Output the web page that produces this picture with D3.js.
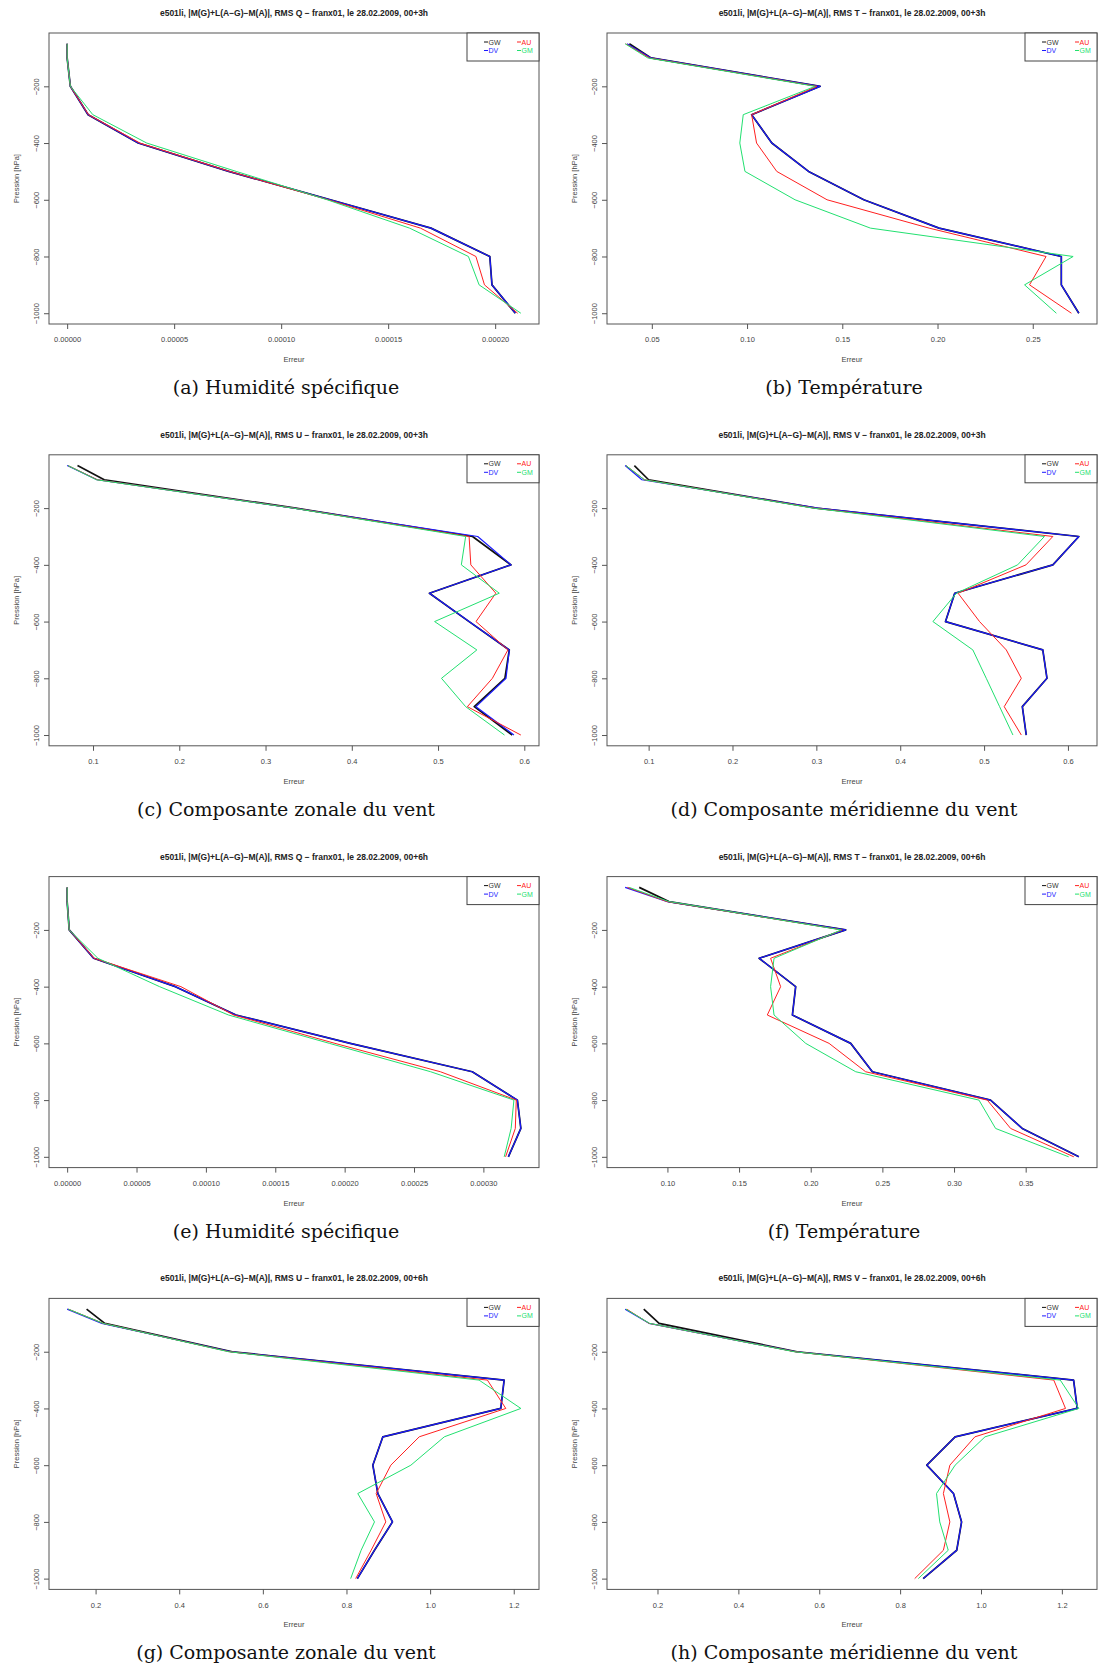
<!DOCTYPE html>
<html>
<head>
<meta charset="utf-8">
<script src="https://cdn.jsdelivr.net/npm/d3@7"></script>
<style>
  html, body { margin: 0; padding: 0; background: #fff; }
  svg { display: block; }
  .tick text { font-family: "Liberation Sans", Arial, sans-serif; }
</style>
</head>
<body>
<svg id="chart" width="1099" height="1668"></svg>
<script>
// ---------------- DATA ----------------
const levels = [50, 100, 200, 300, 400, 500, 600, 700, 800, 900, 1000];
const seriesNames = ["GW", "DV", "AU", "GM"];
const yTicks = [-200, -400, -600, -800, -1000];

// (a) RMS Q, 00+3h
const a_GW = [0, 0, 1.5e-6, 9.8e-6, 3.32e-5, 7.55e-5, 1.23e-4, 1.70e-4, 1.975e-4, 1.985e-4, 2.094e-4];
const a_DV = [0, 0, 1.5e-6, 9.8e-6, 3.32e-5, 7.55e-5, 1.23e-4, 1.70e-4, 1.975e-4, 1.985e-4, 2.094e-4];
const a_AU = [0, 0, 1.5e-6, 1.0e-5, 3.4e-5, 7.6e-5, 1.22e-4, 1.651e-4, 1.91e-4, 1.95e-4, 2.105e-4];
const a_GM = [0, 0, 1.5e-6, 1.2e-5, 3.72e-5, 7.9e-5, 1.215e-4, 1.60e-4, 1.875e-4, 1.925e-4, 2.12e-4];
const a_ticks = [0, 0.00005, 0.0001, 0.00015, 0.0002];

// (b) RMS T, 00+3h
const b_GW = [0.0382, 0.0496, 0.1384, 0.1024, 0.113, 0.1323, 0.1613, 0.2008, 0.265, 0.265, 0.2742];
const b_DV = [0.0370, 0.0496, 0.1384, 0.1024, 0.113, 0.1323, 0.1613, 0.2008, 0.265, 0.265, 0.2742];
const b_AU = [0.0362, 0.0488, 0.1367, 0.1024, 0.105, 0.1156, 0.142, 0.1956, 0.257, 0.2483, 0.2703];
const b_GM = [0.0360, 0.0479, 0.1358, 0.098, 0.0962, 0.0989, 0.1252, 0.1648, 0.2712, 0.2457, 0.2624];
const b_ticks = [0.05, 0.10, 0.15, 0.20, 0.25];

// (c) RMS U, 00+3h
const c_GW = [0.082, 0.113, 0.335, 0.540, 0.5846, 0.490, 0.536, 0.5826, 0.5775, 0.542, 0.586];
const c_DV = [0.070, 0.1046, 0.333, 0.546, 0.5846, 0.490, 0.536, 0.5826, 0.5788, 0.544, 0.588];
const c_AU = [0.071, 0.105, 0.333, 0.536, 0.538, 0.567, 0.544, 0.581, 0.563, 0.534, 0.596];
const c_GM = [0.071, 0.104, 0.332, 0.532, 0.527, 0.571, 0.496, 0.545, 0.504, 0.532, 0.577];
const c_ticks = [0.1, 0.2, 0.3, 0.4, 0.5, 0.6];

// (d) RMS V, 00+3h
const d_GW = [0.083, 0.100, 0.300, 0.613, 0.582, 0.465, 0.454, 0.570, 0.575, 0.5456, 0.5503];
const d_DV = [0.072, 0.092, 0.302, 0.613, 0.582, 0.465, 0.454, 0.570, 0.575, 0.5456, 0.5503];
const d_AU = [0.073, 0.095, 0.298, 0.582, 0.550, 0.469, 0.4946, 0.5265, 0.5444, 0.524, 0.5444];
const d_GM = [0.073, 0.095, 0.296, 0.572, 0.540, 0.467, 0.439, 0.4866, 0.5026, 0.5185, 0.5344];
const d_ticks = [0.1, 0.2, 0.3, 0.4, 0.5, 0.6];

// (e) RMS Q, 00+6h
const e_GW = [0, 0, 1.5e-6, 1.91e-5, 7.8e-5, 1.217e-4, 2.04e-4, 2.92e-4, 3.245e-4, 3.27e-4, 3.18e-4];
const e_DV = [0, 0, 1.5e-6, 1.91e-5, 7.8e-5, 1.217e-4, 2.04e-4, 2.92e-4, 3.245e-4, 3.27e-4, 3.18e-4];
const e_AU = [0, 0, 1.5e-6, 1.95e-5, 8.2e-5, 1.20e-4, 1.93e-4, 2.69e-4, 3.237e-4, 3.23e-4, 3.16e-4];
const e_GM = [0, 0, 1.5e-6, 2.22e-5, 6.66e-5, 1.163e-4, 1.89e-4, 2.62e-4, 3.22e-4, 3.20e-4, 3.15e-4];
const e_ticks = [0, 0.00005, 0.0001, 0.00015, 0.0002, 0.00025, 0.0003];

// (f) RMS T, 00+6h
const f_GW = [0.0803, 0.101, 0.2244, 0.164, 0.1895, 0.1872, 0.2279, 0.243, 0.3255, 0.3476, 0.3871];
const f_DV = [0.0705, 0.100, 0.2244, 0.164, 0.1895, 0.1872, 0.2279, 0.243, 0.3255, 0.3476, 0.3871];
const f_AU = [0.0721, 0.0997, 0.222, 0.172, 0.179, 0.1697, 0.2128, 0.2383, 0.3232, 0.3395, 0.3836];
const f_GM = [0.0733, 0.101, 0.2213, 0.1744, 0.172, 0.1744, 0.1965, 0.2314, 0.3174, 0.329, 0.380];
const f_ticks = [0.10, 0.15, 0.20, 0.25, 0.30, 0.35];

// (g) RMS U, 00+6h
const g_GW = [0.1785, 0.222, 0.527, 1.177, 1.169, 0.887, 0.863, 0.875, 0.910, 0.867, 0.826];
const g_DV = [0.132, 0.215, 0.525, 1.177, 1.169, 0.887, 0.863, 0.875, 0.910, 0.867, 0.826];
const g_AU = [0.135, 0.218, 0.520, 1.137, 1.181, 0.974, 0.906, 0.871, 0.894, 0.859, 0.822];
const g_GM = [0.135, 0.218, 0.518, 1.117, 1.217, 1.034, 0.954, 0.827, 0.867, 0.835, 0.810];
const g_ticks = [0.2, 0.4, 0.6, 0.8, 1.0, 1.2];

// (h) RMS V, 00+6h
const h_GW = [0.166, 0.204, 0.545, 1.229, 1.238, 0.936, 0.866, 0.932, 0.952, 0.940, 0.857];
const h_DV = [0.120, 0.179, 0.543, 1.229, 1.238, 0.936, 0.866, 0.932, 0.952, 0.940, 0.857];
const h_AU = [0.124, 0.179, 0.540, 1.180, 1.209, 0.985, 0.923, 0.907, 0.923, 0.907, 0.836];
const h_GM = [0.122, 0.180, 0.538, 1.196, 1.242, 1.010, 0.936, 0.890, 0.898, 0.919, 0.845];
const h_ticks = [0.2, 0.4, 0.6, 0.8, 1.0, 1.2];

const titleVars = ["Q", "T", "U", "V", "Q", "T", "U", "V"];
const titleRuns = ["00+3h", "00+3h", "00+3h", "00+3h", "00+6h", "00+6h", "00+6h", "00+6h"];
const captions = [
  "(a) Humidité spécifique", "(b) Température",
  "(c) Composante zonale du vent", "(d) Composante méridienne du vent",
  "(e) Humidité spécifique", "(f) Température",
  "(g) Composante zonale du vent", "(h) Composante méridienne du vent"
];

// ---------------- BUILD ----------------
const panels = [
  { data: { GW: a_GW, DV: a_DV, AU: a_AU, GM: a_GM }, ticks: a_ticks, fmt: ".5f" },
  { data: { GW: b_GW, DV: b_DV, AU: b_AU, GM: b_GM }, ticks: b_ticks, fmt: ".2f" },
  { data: { GW: c_GW, DV: c_DV, AU: c_AU, GM: c_GM }, ticks: c_ticks, fmt: ".1f" },
  { data: { GW: d_GW, DV: d_DV, AU: d_AU, GM: d_GM }, ticks: d_ticks, fmt: ".1f" },
  { data: { GW: e_GW, DV: e_DV, AU: e_AU, GM: e_GM }, ticks: e_ticks, fmt: ".5f" },
  { data: { GW: f_GW, DV: f_DV, AU: f_AU, GM: f_GM }, ticks: f_ticks, fmt: ".2f" },
  { data: { GW: g_GW, DV: g_DV, AU: g_AU, GM: g_GM }, ticks: g_ticks, fmt: ".1f" },
  { data: { GW: h_GW, DV: h_DV, AU: h_AU, GM: h_GM }, ticks: h_ticks, fmt: ".1f" }
];

const colors = { GW: "#111111", DV: "#1a1aff", AU: "#ff2020", GM: "#22e070" };
const widths = { GW: 1.7, DV: 1.2, AU: 1.0, GM: 1.0 };
const legendOrder = [["GW", "AU"], ["DV", "GM"]];

const svg = d3.select("#chart");
const SANS = "'Liberation Sans', Arial, Helvetica, sans-serif";

const colX = [49, 607];
const boxW = 490;
const boxH = 291;
const rowY0 = 33, rowPitch = 421.8;

// R-style 4% padding
function rPad(ext) {
  const d = (ext[1] - ext[0]) * 0.04;
  return [ext[0] - d, ext[1] + d];
}

panels.forEach((p, i) => {
  const col = i % 2, row = Math.floor(i / 2);
  const left = colX[col], top = rowY0 + row * rowPitch;
  const g = svg.append("g");

  const allVals = seriesNames.flatMap(s => p.data[s]);
  const x = d3.scaleLinear().domain(rPad(d3.extent(allVals))).range([left, left + boxW]);
  const y = d3.scaleLinear().domain(rPad([-1000, -50])).range([top + boxH, top]);

  // lines
  const line = d3.line().x(d => x(d[0])).y(d => y(d[1]));
  seriesNames.forEach(s => {
    const pts = p.data[s].map((v, k) => [v, -levels[k]]);
    g.append("path").datum(pts)
      .attr("d", line)
      .attr("fill", "none")
      .attr("stroke", colors[s])
      .attr("stroke-width", widths[s])
      .attr("stroke-linejoin", "round");
  });

  // box
  g.append("rect").attr("x", left).attr("y", top).attr("width", boxW).attr("height", boxH)
    .attr("fill", "none").attr("stroke", "#555").attr("stroke-width", 1);

  // x axis
  const fmt = d3.format(p.fmt);
  const xa = g.append("g").attr("transform", `translate(0,${top + boxH})`)
    .call(d3.axisBottom(x).tickValues(p.ticks).tickFormat(fmt).tickSize(5).tickPadding(8));
  xa.select(".domain").remove();
  xa.selectAll(".tick line").attr("stroke", "#555");
  xa.selectAll(".tick text").attr("font-size", 7.5).attr("fill", "#444").attr("font-family", SANS);

  // y axis
  const ya = g.append("g").attr("transform", `translate(${left},0)`)
    .call(d3.axisLeft(y).tickValues(yTicks).tickSize(5).tickFormat(d3.format("d")));
  ya.select(".domain").remove();
  ya.selectAll(".tick line").attr("stroke", "#555");
  ya.selectAll(".tick text")
    .attr("x", null).attr("dy", null)
    .attr("transform", "translate(-13,0) rotate(-90)")
    .attr("text-anchor", "middle")
    .attr("dominant-baseline", "central")
    .attr("font-size", 7.5).attr("fill", "#444").attr("font-family", SANS);

  // axis titles
  g.append("text").attr("x", left + boxW / 2).attr("y", top + boxH + 38)
    .attr("text-anchor", "middle").attr("font-family", SANS).attr("font-size", 7.5).attr("fill", "#444")
    .text("Erreur");
  g.append("text")
    .attr("transform", `translate(${left - 33},${top + boxH / 2}) rotate(-90)`)
    .attr("text-anchor", "middle").attr("dominant-baseline", "central")
    .attr("font-family", SANS).attr("font-size", 7.5).attr("fill", "#444")
    .text("Pression [hPa]");

  // title
  g.append("text").attr("x", left + boxW / 2).attr("y", top - 17)
    .attr("text-anchor", "middle").attr("font-family", SANS).attr("font-size", 8.5)
    .attr("font-weight", "bold").attr("fill", "#222")
    .text(`e501li, |M(G)+L(A\u2212G)\u2212M(A)|, RMS ${titleVars[i]} \u2212 franx01, le 28.02.2009, ${titleRuns[i]}`);

  // legend
  const lgW = 72, lgH = 28;
  const lg = g.append("g").attr("transform", `translate(${left + boxW - lgW},${top})`);
  lg.append("rect").attr("width", lgW).attr("height", lgH).attr("fill", "#fff")
    .attr("stroke", "#444").attr("stroke-width", 1);
  legendOrder.forEach((rowNames, r) => {
    rowNames.forEach((s, c) => {
      const ex = 17 + c * 33, ey = 9 + r * 8.5;
      lg.append("line").attr("x1", ex).attr("x2", ex + 4).attr("y1", ey).attr("y2", ey)
        .attr("stroke", colors[s]).attr("stroke-width", 1);
      lg.append("text").attr("x", ex + 4.5).attr("y", ey).attr("dominant-baseline", "central")
        .attr("font-family", SANS).attr("font-size", 7).attr("fill", s === "GW" ? "#333" : colors[s])
        .text(s);
    });
  });

  // caption
  g.append("text").attr("x", left + boxW / 2 - 8).attr("y", top + boxH + 70)
    .attr("text-anchor", "middle").attr("font-family", "'DejaVu Serif', 'Liberation Serif', serif")
    .attr("font-size", 19).attr("fill", "#111")
    .text(captions[i]);
});
</script>
</body>
</html>
